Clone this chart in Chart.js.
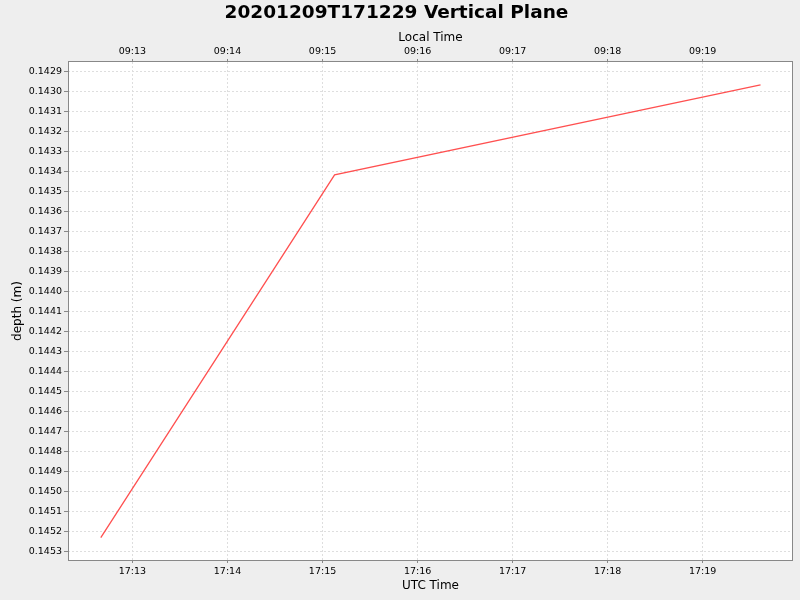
<!DOCTYPE html>
<html>
<head>
<meta charset="utf-8">
<script src="https://cdn.jsdelivr.net/npm/chart.js@4/dist/chart.umd.min.js"></script>
<style>
  html, body { margin: 0; padding: 0; background: #eeeeee; }
  #wrap { width: 800px; height: 600px; }
</style>
</head>
<body>
<div id="wrap"><canvas id="chart" width="800" height="600"></canvas></div>
<script>
// --- data ---
const utcTimes = ['17:12:40', '17:15:07.6', '17:19:36.5'];
const depths = [0.145229, 0.143418, 0.142968];
const minuteTicks = ['17:13', '17:14', '17:15', '17:16', '17:17', '17:18', '17:19'];
const depthTicks = [0.1429, 0.1430, 0.1431, 0.1432, 0.1433, 0.1434, 0.1435, 0.1436, 0.1437,
  0.1438, 0.1439, 0.1440, 0.1441, 0.1442, 0.1443, 0.1444, 0.1445, 0.1446, 0.1447, 0.1448,
  0.1449, 0.1450, 0.1451, 0.1452, 0.1453];
const xRange = ['17:12:19.3', '17:19:57'];
const yRange = [0.142854, 0.145341];
const localOffsetHours = -8;

// "HH:MM:SS" -> seconds of day
function toSec(s) {
  const p = s.split(':').map(Number);
  return p[0] * 3600 + p[1] * 60 + (p[2] || 0);
}
function fmt(sec, offsetH) {
  let m = Math.round(sec / 60) + offsetH * 60;
  m = (m + 1440) % 1440;
  const h = Math.floor(m / 60), mm = m % 60;
  return String(h).padStart(2, '0') + ':' + String(mm).padStart(2, '0');
}

const points = utcTimes.map((t, i) => ({ x: toSec(t), y: depths[i] }));
const xTickVals = minuteTicks.map(toSec);

const tickFont = { family: 'DejaVu Sans', size: 9.5 };
const titleFont = { family: 'DejaVu Sans', size: 12 };
const gridOpts = {
  color: '#dedede',
  tickColor: '#888888',
  tickBorderDash: [],
  lineWidth: 1
};
const borderOpts = { display: false, dash: [2, 2] };

// white plot background + grey frame
const frame = {
  id: 'frame',
  beforeDraw(chart) {
    const { ctx, chartArea: a } = chart;
    ctx.save();
    ctx.fillStyle = '#ffffff';
    ctx.fillRect(a.left, a.top, a.right - a.left, a.bottom - a.top);
    ctx.restore();
  },
  afterDraw(chart) {
    const { ctx, chartArea: a } = chart;
    ctx.save();
    ctx.strokeStyle = '#888888';
    ctx.lineWidth = 1;
    ctx.strokeRect(Math.round(a.left) + 0.5, Math.round(a.top) - 0.5,
      Math.round(a.right - a.left) - 1, Math.round(a.bottom - a.top) + 1);
    ctx.restore();
  }
};

new Chart(document.getElementById('chart'), {
  type: 'line',
  data: {
    datasets: [{
      data: points,
      borderColor: '#ff5050',
      borderWidth: 1.3,
      pointRadius: 0,
      tension: 0,
      fill: false
    }]
  },
  options: {
    responsive: false,
    animation: false,
    devicePixelRatio: 1,
    layout: { padding: { left: 0, right: 7, top: 2, bottom: 0 } },
    plugins: {
      legend: { display: false },
      tooltip: { enabled: false },
      title: {
        display: true,
        text: '20201209T171229 Vertical Plane',
        color: '#000000',
        font: { family: 'DejaVu Sans', size: 18.5, weight: 'bold' },
        padding: { top: 0, bottom: 0 }
      }
    },
    scales: {
      x: {
        type: 'linear',
        position: 'bottom',
        min: toSec(xRange[0]),
        max: toSec(xRange[1]),
        afterBuildTicks: ax => { ax.ticks = xTickVals.map(v => ({ value: v })); },
        afterFit: ax => { ax.height = 40; },
        ticks: { callback: v => fmt(v, 0), color: '#000', font: tickFont, maxRotation: 0, padding: 2.5 },
        grid: { ...gridOpts, tickLength: 3 },
        border: borderOpts,
        title: { display: true, text: 'UTC Time', color: '#000', font: titleFont, padding: { top: 0, bottom: 7 } }
      },
      x2: {
        type: 'linear',
        position: 'top',
        min: toSec(xRange[0]),
        max: toSec(xRange[1]),
        afterBuildTicks: ax => { ax.ticks = xTickVals.map(v => ({ value: v })); },
        afterFit: ax => { ax.height = 37.8; },
        ticks: { callback: v => fmt(v, localOffsetHours), color: '#000', font: tickFont, maxRotation: 0, padding: 1.5 },
        grid: { display: true, drawOnChartArea: false, tickColor: '#888888', tickLength: 3 },
        border: { display: false },
        title: { display: true, text: 'Local Time', color: '#000', font: titleFont, padding: { top: 6.6, bottom: 0 } }
      },
      y: {
        type: 'linear',
        reverse: true,
        min: yRange[0],
        max: yRange[1],
        afterBuildTicks: ax => { ax.ticks = depthTicks.map(v => ({ value: v })); },
        afterFit: ax => { ax.width = 68; },
        ticks: { callback: v => v.toFixed(4), color: '#000', font: tickFont, padding: 2 },
        grid: { ...gridOpts, tickLength: 4 },
        border: borderOpts,
        title: { display: true, text: 'depth (m)', color: '#000', font: titleFont, padding: { top: 11, bottom: 0 } }
      }
    }
  },
  plugins: [frame]
});
</script>
</body>
</html>
